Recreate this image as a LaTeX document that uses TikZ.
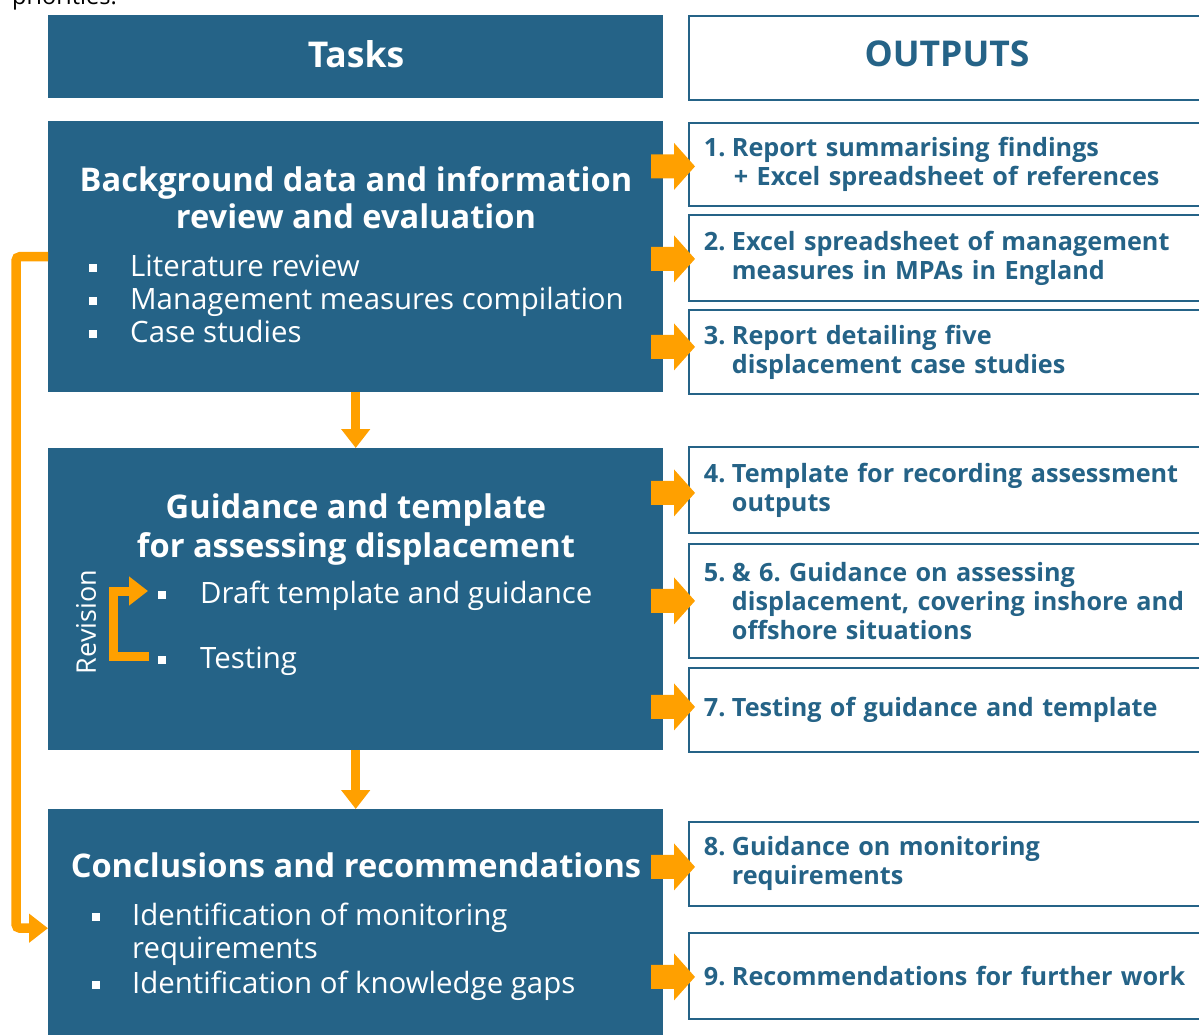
\documentclass[tikz,border=0pt]{standalone}
\usepackage{fontspec}
\setmainfont{Open Sans}
\usetikzlibrary{arrows.meta,calc}
\definecolor{navy}{RGB}{37,99,135}
\definecolor{orng}{RGB}{255,160,0}
\newcommand\bulsq[1]{\makebox[#1][l]{\rule[4pt]{8pt}{8pt}}}
\newcommand\ind{\hspace*{28pt}}
\newcommand\num[1]{\makebox[28pt][l]{#1}}
\newcommand\barrow[2]{\fill[blockarrow] ($(#1.west)+(7,#2)$) -- ++(-21,-23.5) -- ++(0,11.5) -- ++(-23,0) -- ++(0,24) -- ++(23,0) -- ++(0,11.5) -- cycle;}
\frenchspacing
\begin{document}
\begin{tikzpicture}[x=1pt,y=-1pt,
  bluebox/.style={fill=navy, draw=none, inner sep=0pt, anchor=north west, minimum width=615pt},
  outbox/.style={draw=navy, line width=1.8pt, fill=white, anchor=north west, minimum width=530pt,
     inner xsep=15pt, inner ysep=0pt, text width=500pt, align=left, text=navy,
     font=\fontsize{25.2}{29}\selectfont\bfseries},
  head/.style={font=\fontsize{35.5}{40}\selectfont\bfseries, anchor=base, inner sep=0pt},
  ttl/.style={text=white, font=\fontsize{32.6}{38}\selectfont\bfseries, anchor=base, inner sep=0pt},
  bul/.style={text=white, font=\fontsize{29.4}{33}\selectfont, anchor=base west, inner sep=0pt},
  conn/.style={draw=orng, line width=9.5pt, -{Triangle[width=28pt,length=19pt]}},
  blockarrow/.style={fill=orng, draw=none},
]
\useasboundingbox (0,0) rectangle (1199,1035);

% clipped caption line at top
\node[anchor=base west, inner sep=0pt, font=\fontsize{23.5}{28}\selectfont] (cap) at (12,5) {priorities.};

% header boxes
\node[bluebox, minimum height=83pt] (tasks) at (48,15) {};
\node[head, text=white] (taskslbl) at (356,68) {Tasks};
\node[outbox, minimum height=84pt] (outputs) at (688,15) {};
\node[head, text=navy] (outlbl) at (947,67) {OUTPUTS};

% task boxes
\node[bluebox, minimum height=271pt] (b1) at (48,121) {};
\node[bluebox, minimum height=302pt] (b2) at (48,448) {};
\node[bluebox, minimum height=238pt] (b3) at (48,809) {};

% titles
\node[ttl] (t1a) at (356,192) {Background data and information};
\node[ttl] (t1b) at (356,229) {review and evaluation};
\node[ttl] (t2a) at (356,518) {Guidance and template};
\node[ttl] (t2b) at (356,557) {for assessing displacement};
\node[ttl] (t3a) at (356,877) {Conclusions and recommendations};

% bullets
\node[bul] (l1) at (89,276) {\bulsq{41pt}Literature review};
\node[bul] (l2) at (89,309) {\bulsq{41pt}Management measures compilation};
\node[bul] (l3) at (89,342) {\bulsq{41pt}Case studies};
\node[bul] (l4) at (158,603) {\bulsq{42pt}Draft template and guidance};
\node[bul] (l5) at (158,668) {\bulsq{42pt}Testing};
\node[bul] (l6) at (92,925) {\bulsq{40pt}Identification of monitoring};
\node[bul] (l7) at (132,958) {requirements};
\node[bul] (l8) at (92,993) {\bulsq{40pt}Identification of knowledge gaps};

% revision
\node[text=white, rotate=90, inner sep=0pt, font=\fontsize{27}{32}\selectfont] (rev) at (86,622) {Revision};
\coordinate (rb) at (149,656);
\coordinate (rt) at (148,591);
\draw[draw=orng, line width=9pt, -{Triangle[width=28pt,length=19pt]}] (rb) -- ++(-36,0) |- (rt);

% output boxes
\node[outbox, minimum height=83pt] (o1) at (688,122) {\num{1.}Report summarising findings\\\ind\hspace*{2pt}+ Excel spreadsheet of references};
\node[outbox, minimum height=86pt] (o2) at (688,214) {\num{2.}Excel spreadsheet of management\\\ind measures in MPAs in England};
\node[outbox, minimum height=84pt] (o3) at (688,309) {\num{3.}Report detailing five\\\ind displacement case studies};
\node[outbox, minimum height=86pt] (o4) at (688,446) {\num{4.}Template for recording assessment\\\ind outputs};
\node[outbox, minimum height=114pt] (o5) at (688,543) {\num{5.}\& 6. Guidance on assessing\\\ind displacement, covering inshore and\\\ind offshore situations};
\node[outbox, minimum height=84pt] (o7) at (688,667) {\num{7.}Testing of guidance and template};
\node[outbox, minimum height=84pt] (o8) at (688,821) {\num{8.}Guidance on monitoring\\\ind requirements};
\node[outbox, minimum height=86pt] (o9) at (688,932) {\num{9.}Recommendations for further work};

% block arrows from task boxes to outputs
\barrow{o1}{2}
\barrow{o2}{1}
\barrow{o3}{-5}
\barrow{o4}{3}
\barrow{o5}{0}
\barrow{o7}{-3}
\barrow{o8}{3}
\barrow{o9}{1}

% flow connectors
\draw[conn] (b1.south) -- (b2.north);
\draw[conn] (b2.south) -- (b3.north);
\draw[conn, rounded corners=4pt] (b1.west) -- ++(-32,0) |- (b3.west);
\end{tikzpicture}
\end{document}
